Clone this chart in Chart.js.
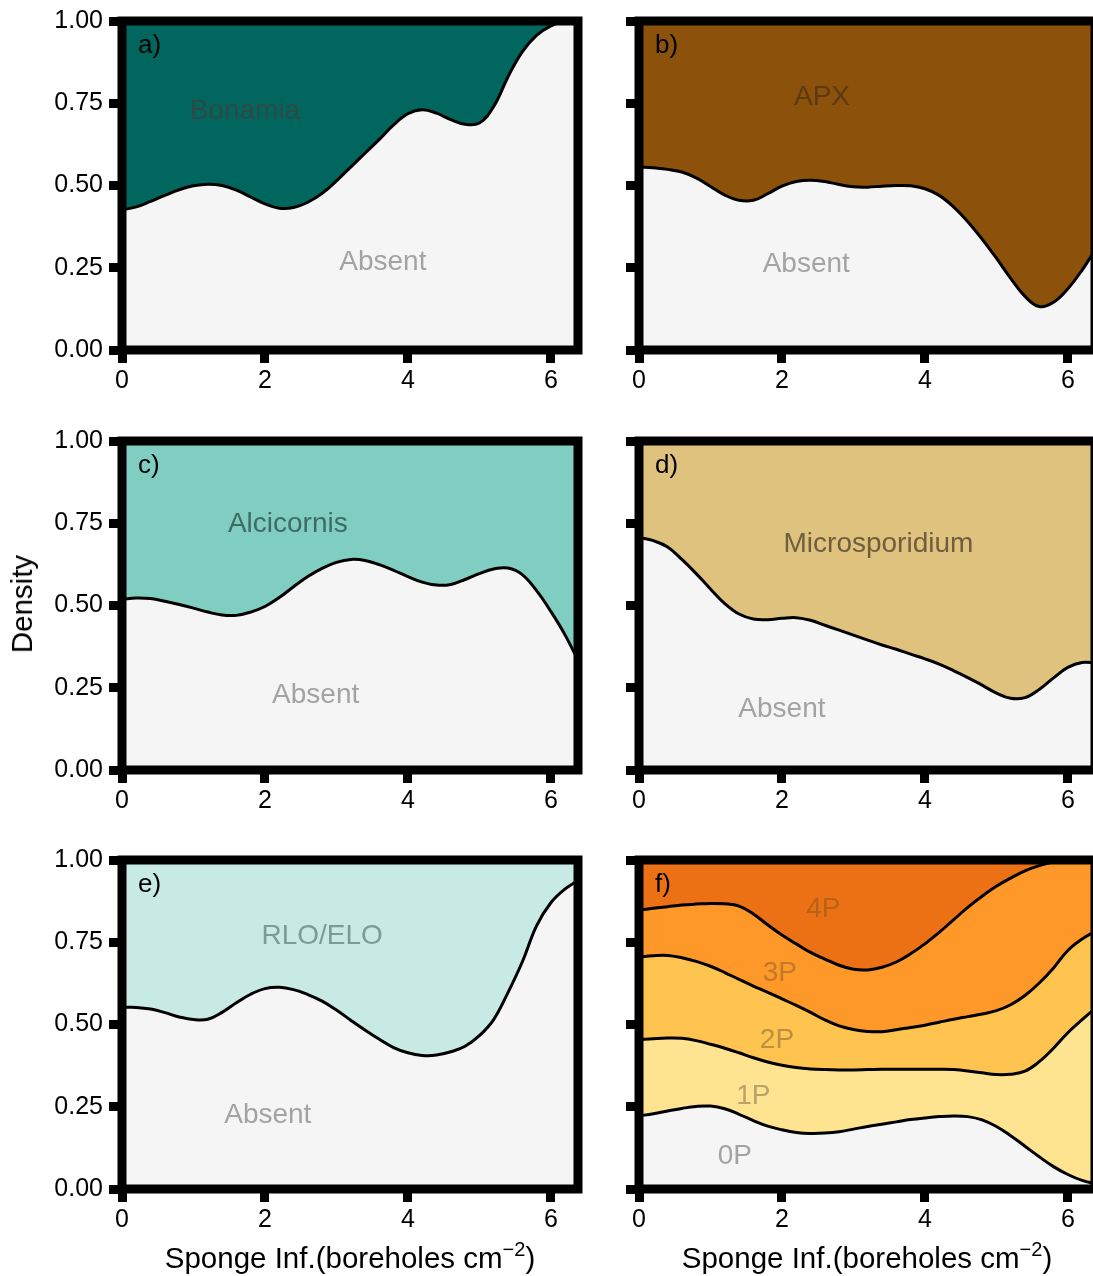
<!DOCTYPE html>
<html>
<head>
<meta charset="utf-8">
<script src="https://cdn.jsdelivr.net/npm/chart.js@4.4.1/dist/chart.umd.min.js"></script>
<style>
  body { margin: 0; width: 1093px; height: 1276px; overflow: hidden; background: #fff; position: relative;
         font-family: 'Liberation Sans', Arial, Helvetica, sans-serif; color: #000; }
  canvas { position: absolute; }
  .xtitle { position: absolute; top: 1232px; width: 456px; text-align: center; font-size: 29.5px; line-height: 34px; white-space: nowrap; }
  .xtitle span { font-size: 20px; vertical-align: 12px; }
  .ytitle { position: absolute; left: 22px; top: 604px; font-size: 29.5px; line-height: 34px;
            transform: translate(-50%, -50%) rotate(-90deg); white-space: nowrap; }
</style>
</head>
<body>
<canvas id="pa" width="590" height="410" style="left:0px; top:0px"></canvas>
<canvas id="pb" width="590" height="410" style="left:517px; top:0px"></canvas>
<canvas id="pc" width="590" height="410" style="left:0px; top:420px"></canvas>
<canvas id="pd" width="590" height="410" style="left:517px; top:420px"></canvas>
<canvas id="pe" width="590" height="410" style="left:0px; top:839px"></canvas>
<canvas id="pf" width="590" height="410" style="left:517px; top:839px"></canvas>
<div class="ytitle">Density</div>
<div class="xtitle" style="left:122px">Sponge Inf.(boreholes cm<span>−2</span>)</div>
<div class="xtitle" style="left:639px">Sponge Inf.(boreholes cm<span>−2</span>)</div>
<script>
'use strict';
Chart.defaults.font.family = "'Liberation Sans', Arial, Helvetica, sans-serif";
Chart.defaults.color = '#000';

// sponge infestation grid (boreholes cm-2)
let spongeX = [0, 0.2, 0.4, 0.6, 0.8, 1.0, 1.2, 1.4, 1.6, 1.8, 2.0, 2.2, 2.4, 2.6, 2.8, 3.0, 3.2,
  3.4, 3.6, 3.8, 4.0, 4.2, 4.4, 4.6, 4.8, 5.0, 5.2, 5.4, 5.6, 5.8, 6.0, 6.2, 6.4];
let xMax = 6.38;
let xTicks = [0, 2, 4, 6];
let yTicks = [0, 0.25, 0.5, 0.75, 1];
let yTickLabels = ['0.00', '0.25', '0.50', '0.75', '1.00'];

// conditional density: share "Absent" (boundary of the lower band)
let bonamia = [0.426, 0.435, 0.452, 0.470, 0.487, 0.499, 0.504, 0.500, 0.486, 0.465, 0.444, 0.431, 0.433,
  0.449, 0.476, 0.514, 0.556, 0.598, 0.640, 0.684, 0.718, 0.730, 0.720, 0.700, 0.686, 0.690, 0.740,
  0.830, 0.906, 0.956, 0.985, 1.0, 1.0];
let apx = [0.556, 0.554, 0.549, 0.541, 0.523, 0.497, 0.471, 0.455, 0.455, 0.475, 0.498, 0.512, 0.516,
  0.512, 0.503, 0.496, 0.495, 0.498, 0.500, 0.499, 0.490, 0.470, 0.435, 0.390, 0.337, 0.279, 0.218,
  0.163, 0.132, 0.145, 0.186, 0.243, 0.310];
let alcicornis = [0.519, 0.523, 0.521, 0.513, 0.503, 0.492, 0.480, 0.471, 0.470, 0.480, 0.497, 0.524,
  0.557, 0.588, 0.613, 0.631, 0.640, 0.637, 0.624, 0.607, 0.588, 0.571, 0.562, 0.564, 0.579, 0.597,
  0.611, 0.614, 0.594, 0.545, 0.482, 0.410, 0.325];
let microsporidium = [0.707, 0.697, 0.678, 0.640, 0.597, 0.550, 0.506, 0.474, 0.459, 0.457, 0.461,
  0.463, 0.455, 0.440, 0.425, 0.410, 0.395, 0.380, 0.367, 0.352, 0.338, 0.322, 0.302, 0.281, 0.258,
  0.234, 0.218, 0.220, 0.245, 0.280, 0.312, 0.327, 0.325];
let rloElo = [0.552, 0.552, 0.547, 0.536, 0.523, 0.515, 0.516, 0.537, 0.566, 0.592, 0.609, 0.613, 0.606,
  0.591, 0.571, 0.544, 0.513, 0.483, 0.455, 0.430, 0.414, 0.406, 0.407, 0.417, 0.434, 0.466, 0.515,
  0.597, 0.690, 0.800, 0.870, 0.912, 0.940];

// panel f, cumulative boundaries between pathology classes
let cum0P = [0.222, 0.229, 0.237, 0.245, 0.251, 0.252, 0.244, 0.227, 0.208, 0.191, 0.180, 0.172, 0.169,
  0.170, 0.174, 0.182, 0.190, 0.197, 0.204, 0.211, 0.216, 0.220, 0.222, 0.220, 0.210, 0.190, 0.162,
  0.130, 0.098, 0.068, 0.044, 0.026, 0.015];
let cum1P = [0.454, 0.457, 0.459, 0.458, 0.451, 0.440, 0.428, 0.414, 0.399, 0.386, 0.376, 0.369, 0.365,
  0.363, 0.362, 0.362, 0.363, 0.364, 0.364, 0.364, 0.364, 0.364, 0.363, 0.359, 0.353, 0.348, 0.349,
  0.358, 0.387, 0.428, 0.475, 0.515, 0.552];
let cum2P = [0.705, 0.709, 0.710, 0.703, 0.692, 0.677, 0.658, 0.637, 0.617, 0.598, 0.578, 0.558, 0.537,
  0.514, 0.496, 0.485, 0.479, 0.478, 0.484, 0.491, 0.498, 0.507, 0.516, 0.524, 0.532, 0.542, 0.560,
  0.588, 0.626, 0.672, 0.725, 0.760, 0.785];
let cum3P = [0.848, 0.853, 0.858, 0.863, 0.866, 0.868, 0.867, 0.860, 0.836, 0.803, 0.772, 0.745, 0.719,
  0.699, 0.680, 0.668, 0.666, 0.674, 0.690, 0.715, 0.745, 0.780, 0.818, 0.856, 0.890, 0.920, 0.945,
  0.967, 0.983, 0.994, 1.0, 1.0, 1.0];

let absentCol = '#F5F5F5';
let absentText = '#A3A3A3';

let panels = [
  {id: 'pa', letter: 'a)', showY: true,
    lines: [{data: bonamia, fill: 'end', color: '#01665E'}],
    labels: [{text: 'Bonamia', x: 1.72, y: 0.725, color: '#2F4A46'}, {text: 'Absent', x: 3.65, y: 0.266, color: absentText}]},
  {id: 'pb', letter: 'b)', showY: false,
    lines: [{data: apx, fill: 'end', color: '#8C510A'}],
    labels: [{text: 'APX', x: 2.56, y: 0.767, color: '#5B3A12'}, {text: 'Absent', x: 2.34, y: 0.26, color: absentText}]},
  {id: 'pc', letter: 'c)', showY: true,
    lines: [{data: alcicornis, fill: 'end', color: '#80CDC1'}],
    labels: [{text: 'Alcicornis', x: 2.32, y: 0.746, color: '#3E6B63'}, {text: 'Absent', x: 2.71, y: 0.227, color: absentText}]},
  {id: 'pd', letter: 'd)', showY: false,
    lines: [{data: microsporidium, fill: 'end', color: '#DFC27D'}],
    labels: [{text: 'Microsporidium', x: 3.35, y: 0.686, color: '#6E5E3D'}, {text: 'Absent', x: 2.0, y: 0.184, color: absentText}]},
  {id: 'pe', letter: 'e)', showY: true,
    lines: [{data: rloElo, fill: 'end', color: '#C7EAE5'}],
    labels: [{text: 'RLO/ELO', x: 2.80, y: 0.767, color: '#7E9A96'}, {text: 'Absent', x: 2.04, y: 0.224, color: absentText}]},
  {id: 'pf', letter: 'f)', showY: false,
    lines: [{data: cum0P, fill: '+1', color: '#FEE391'}, {data: cum1P, fill: '+1', color: '#FEC44F'},
      {data: cum2P, fill: '+1', color: '#FE9929'}, {data: cum3P, fill: 'end', color: '#EC7014'}],
    labels: [{text: '4P', x: 2.58, y: 0.849, color: '#B5621A'}, {text: '3P', x: 1.97, y: 0.656, color: '#C2782A'},
      {text: '2P', x: 1.93, y: 0.453, color: '#BD9040'}, {text: '1P', x: 1.60, y: 0.281, color: '#B8A36A'},
      {text: '0P', x: 1.34, y: 0.10, color: absentText}]}
];

// background, labels and the thick frame round each panel
let panelDeco = {
  id: 'panelDeco',
  beforeDraw(chart, args, opts) {
    let a = chart.chartArea;
    let ctx = chart.ctx;
    ctx.save();
    ctx.fillStyle = absentCol;
    ctx.fillRect(a.left, a.top, a.right - a.left, a.bottom - a.top);
    ctx.restore();
  },
  afterDatasetsDraw(chart, args, opts) {
    let ctx = chart.ctx;
    ctx.save();
    ctx.font = "28px 'Liberation Sans', Arial, sans-serif";
    ctx.textAlign = 'center';
    ctx.textBaseline = 'middle';
    opts.labels.forEach(function (l) {
      ctx.fillStyle = l.color;
      ctx.fillText(l.text, chart.scales.x.getPixelForValue(l.x), chart.scales.y.getPixelForValue(l.y));
    });
    ctx.restore();
  },
  afterDraw(chart, args, opts) {
    let a = chart.chartArea;
    let ctx = chart.ctx;
    ctx.save();
    ctx.strokeStyle = '#000';
    ctx.lineWidth = 9;
    ctx.strokeRect(a.left, a.top, a.right - a.left, a.bottom - a.top);
    ctx.fillStyle = '#000';
    ctx.font = "26px 'Liberation Sans', Arial, sans-serif";
    ctx.textAlign = 'left';
    ctx.textBaseline = 'middle';
    ctx.fillText(opts.letter, a.left + 16, a.top + 25);
    ctx.restore();
  }
};

function makePanel(p) {
  let ctx = document.getElementById(p.id).getContext('2d');
  let datasets = [];
  for (let i = 0; i < p.lines.length; i++) {
    let line = p.lines[i];
    datasets.push({
      data: spongeX.map((x, j) => ({x: x, y: line.data[j]})),
      borderColor: '#000',
      borderWidth: 3,
      pointRadius: 0,
      tension: 0.4,
      fill: line.fill,
      backgroundColor: line.color
    });
  }
  let tickGrid = {drawOnChartArea: false, drawTicks: true, tickLength: 13, tickWidth: 9, tickColor: '#000'};
  new Chart(ctx, {
    type: 'line',
    data: {datasets: datasets},
    options: {
      responsive: false,
      animation: false,
      layout: {padding: {top: 19, right: 12, left: 0, bottom: 0}},
      plugins: {
        legend: {display: false},
        tooltip: {enabled: false},
        filler: {drawTime: 'beforeDatasetsDraw'},
        panelDeco: {letter: p.letter, labels: p.labels}
      },
      scales: {
        x: {
          type: 'linear', min: 0, max: xMax,
          afterBuildTicks: s => { s.ticks = xTicks.map(v => ({value: v})); },
          afterFit: s => { s.height = 60; },
          border: {display: false},
          grid: tickGrid,
          ticks: {font: {size: 25}, padding: 3, maxRotation: 0, autoSkip: false, callback: v => String(v)}
        },
        y: {
          type: 'linear', min: 0, max: 1,
          afterBuildTicks: s => { s.ticks = yTicks.map(v => ({value: v})); },
          afterFit: s => { s.width = 122; },
          border: {display: false},
          grid: tickGrid,
          ticks: {font: {size: 25}, padding: 6, autoSkip: false,
            callback: (v, i) => p.showY ? yTickLabels[i] : ''}
        }
      }
    },
    plugins: [panelDeco]
  });
}

panels.forEach(makePanel);
</script>
</body>
</html>
